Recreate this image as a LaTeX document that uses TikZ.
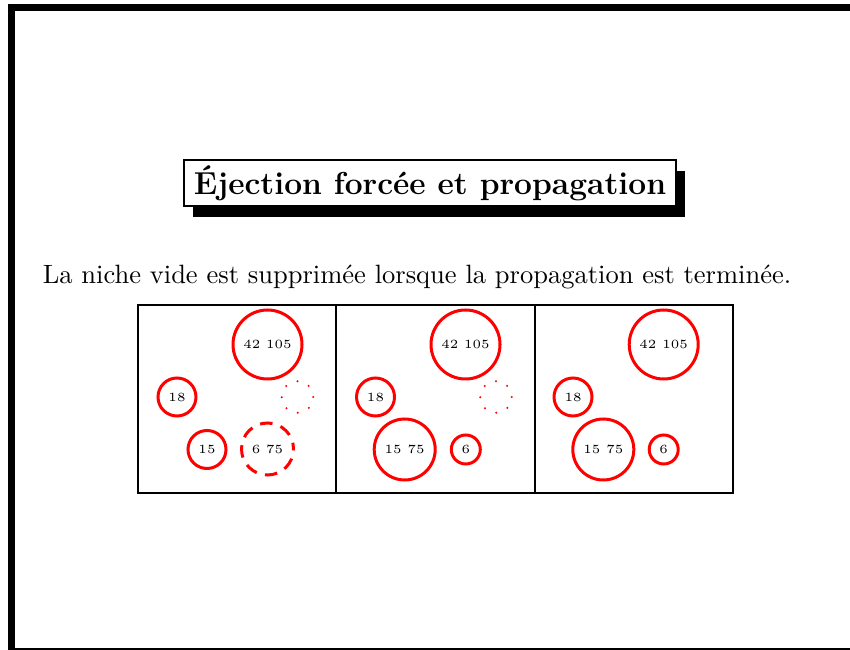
\documentclass[tikz,border=0pt]{standalone}
\usepackage{fontspec}
\usetikzlibrary{shadows}

\begin{document}
\begin{tikzpicture}[x=0.4pt, y=-0.4pt,
    main/.style = {draw=red, circle, line width=1.2pt, inner sep=0pt,
        font=\fontsize{5}{6}\selectfont},
    panel/.style = {draw, line width=0.8pt, minimum width=79.4pt,
        minimum height=75.4pt, inner sep=0pt},
    vide/.style = {draw=red, line width=0.9pt, line cap=round,
        dash pattern=on 0pt off 4.96pt}]
            \useasboundingbox (0,0) rectangle (850,650);
            % cadre
            \fill (8,4) rectangle (850,11);
            \fill (8,4) rectangle (15,650);
            \fill (8,647.5) rectangle (850,650);

            \node[draw, line width=0.8pt, fill=white, inner xsep=4pt, inner ysep=2.2pt,
                font=\fontsize{12.7}{15}\bfseries\selectfont,
                drop shadow={shadow xshift=3.6pt, shadow yshift=-4.4pt, fill=black, opacity=1}]
                (titre) at (430,183) {Éjection forcée et propagation};
            \node[font=\fontsize{10.6}{13}\selectfont] (texte) at (417,277) {La niche vide est supprimée lorsque la propagation est terminée.};

            \node[panel] (P1) at (237,399) {};
            \node[panel] (P2) at (435.5,399) {};
            \node[panel] (P3) at (634,399) {};

            \node[main, minimum size=27.6pt] (A1) at (267.5,344.5) {42 105};
            \node[main, minimum size=15.2pt] (B1) at (177,397) {18};
            \node[main, minimum size=15.2pt] (C1) at (207,449.5) {15};
            \node[main, minimum size=20.8pt, dash pattern=on 5pt off 3.4pt, dash phase=2.5pt] (D1) at (267.5,449) {6 75};
            \draw[vide] (297.5,397) circle [radius=6.3pt];

            \node[main, minimum size=27.6pt] (A2) at (465.5,344.5) {42 105};
            \node[main, minimum size=15.2pt] (B2) at (375.5,397) {18};
            \node[main, minimum size=24.4pt] (C2) at (404.7,449.5) {15 75};
            \node[main, minimum size=11.6pt] (D2) at (465.8,449.5) {6};
            \draw[vide] (496,397) circle [radius=6.3pt];

            \node[main, minimum size=27.6pt] (A3) at (663.7,344.5) {42 105};
            \node[main, minimum size=15.2pt] (B3) at (573,397) {18};
            \node[main, minimum size=24.4pt] (C3) at (603.3,449.5) {15 75};
            \node[main, minimum size=11.6pt] (D3) at (663.7,449.5) {6};
        \end{tikzpicture}
\end{document}
